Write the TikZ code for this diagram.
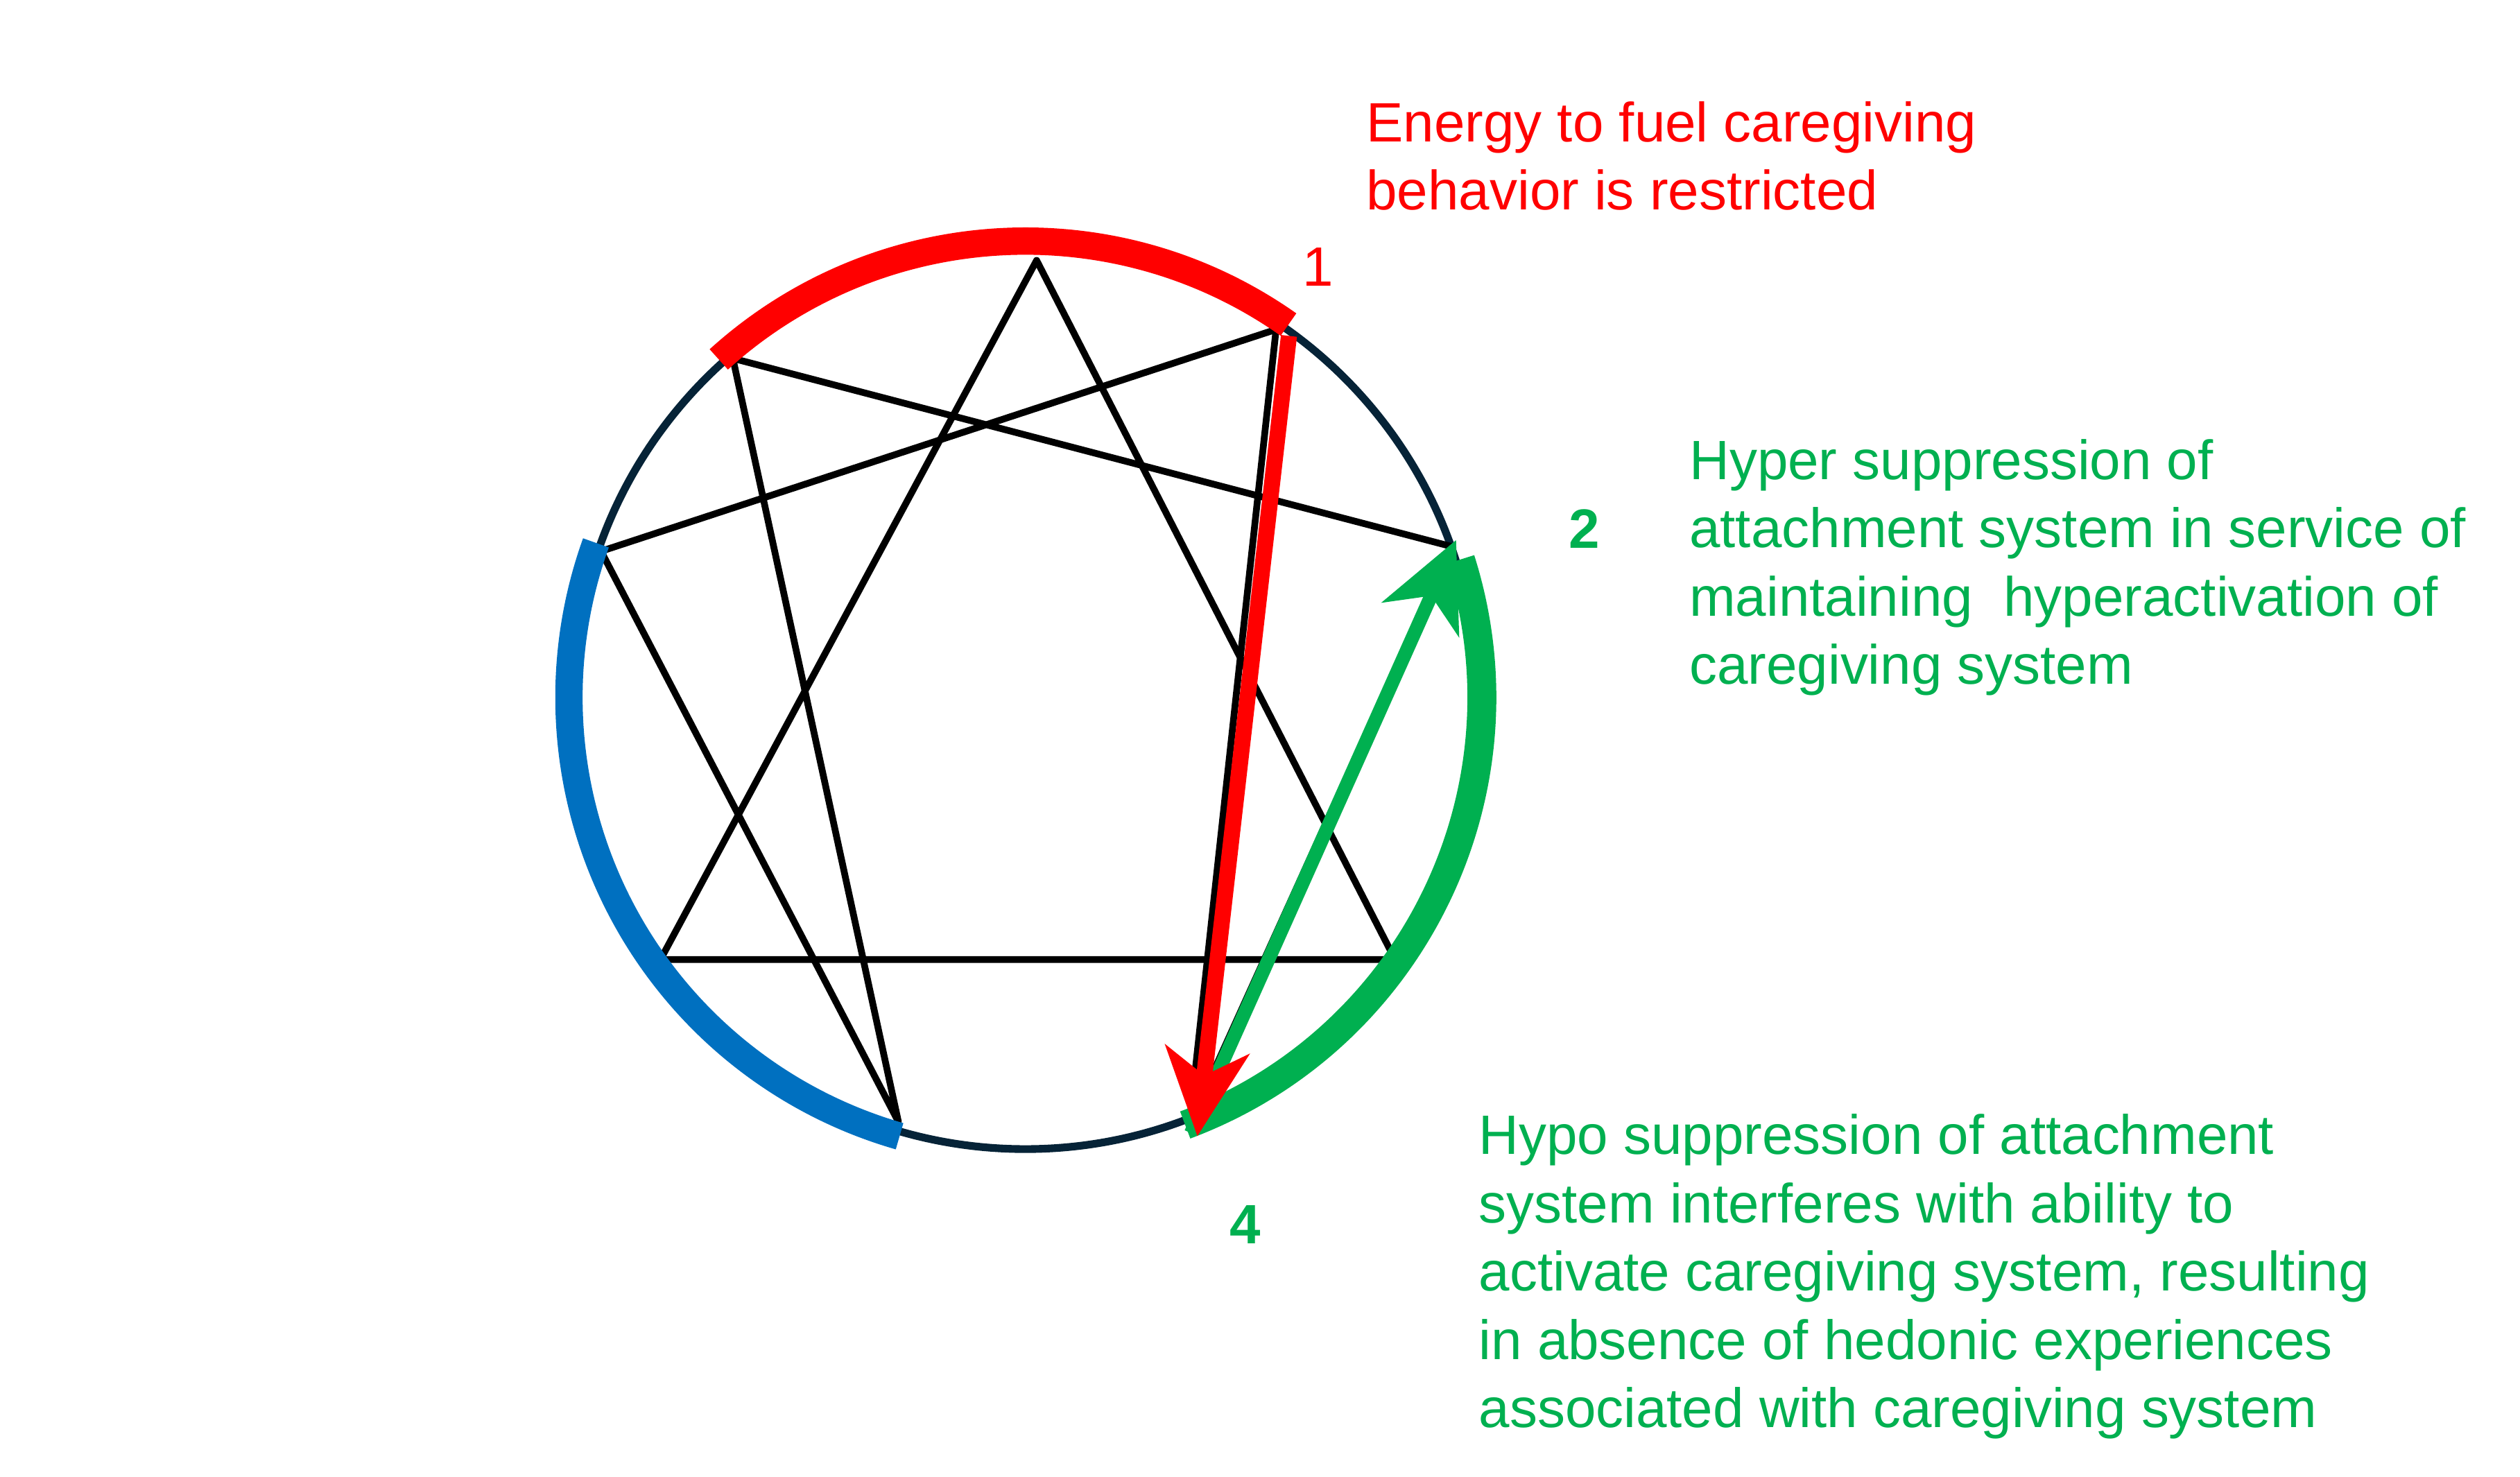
\documentclass[tikz,border=0pt]{standalone}
\usepackage{fontspec}
\setmainfont{Liberation Sans}
\usetikzlibrary{arrows.meta}
\definecolor{ringnavy}{HTML}{062337}
\definecolor{offgreen}{HTML}{00B050}
\definecolor{offblue}{HTML}{0070C0}
\begin{document}
\begin{tikzpicture}[
  x=1pt, y=1pt,
  ring/.style={draw=ringnavy, line width=4.8pt},
  star/.style={draw=black, line width=4.2pt, line join=round},
  band/.style={line width=17pt},
  head/.style={-{Stealth[length=54pt, width=52pt, inset=16pt]}},
  txt/.style={inner sep=0pt, align=left, anchor=north west,
    font=\fontsize{34.5pt}{42.5pt}\selectfont},
  num/.style={inner sep=0pt, font=\fontsize{34.5pt}{42.5pt}\selectfont}
]
\useasboundingbox (0,0) rectangle (1568,-919);
\coordinate (c) at (638,-434);
\coordinate (p9) at (645,-162);
\coordinate (p1) at (794,-205);
\coordinate (p2) at (903,-340);
\coordinate (p3) at (868,-597);
\coordinate (p4) at (740,-700);
\coordinate (p5) at (559,-698);
\coordinate (p6) at (411,-597);
\coordinate (p7) at (374,-343);
\coordinate (p8) at (456,-223);

\draw[ring] (c) circle[radius=281pt];
\draw[star] (p1) -- (p4) -- (p2) -- (p8) -- (p5) -- (p7) -- cycle;
\draw[star] (p9) -- (p3) -- (p6) -- cycle;

\draw[band, red] (c) ++(54.8:284pt) arc[start angle=54.8, end angle=132.2, radius=284pt];
\draw[band, offblue] (c) ++(160.2:284pt) arc[start angle=160.2, end angle=254, radius=284pt];
\draw[band, offgreen, line width=18pt] (c) ++(-69.5:284pt) arc[start angle=-69.5, end angle=17.6, radius=284pt];

\coordinate (g4) at (741,-705);
\coordinate (g2) at (906,-336);
\coordinate (r1) at (802,-209);
\coordinate (r4) at (745,-707);
\draw[head, offgreen, line width=8.5pt] (g4) -- (g2);
\draw[head, red, line width=10pt] (r1) -- (r4);

\node[num, red] (one) at (820,-166) {1};
\node[num, offgreen] (two) at (986,-329) {\bfseries 2};
\node[num, offgreen] (four) at (775,-762) {\bfseries 4};

\node[txt, red] (energy) at (850,-63) {Energy to fuel caregiving\\behavior is restricted};
\node[txt, offgreen] (hyper) at (1051,-273) {Hyper suppression of\\attachment system in service of\\maintaining~ hyperactivation of\\caregiving system};
\node[txt, offgreen] (hypo) at (920,-693) {Hypo suppression of attachment\\system interferes with ability to\\activate caregiving system, resulting\\in absence of hedonic experiences\\associated with caregiving system};
\end{tikzpicture}
\end{document}
